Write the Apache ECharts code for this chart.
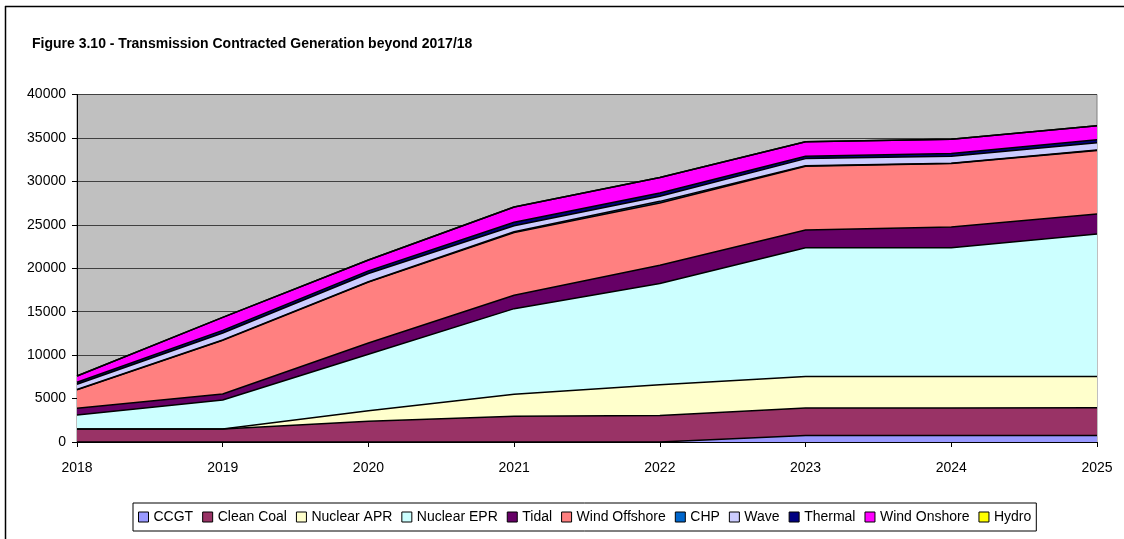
<!DOCTYPE html>
<html>
<head>
<meta charset="utf-8">
<script src="https://cdn.jsdelivr.net/npm/echarts@6/dist/echarts.min.js"></script>
<style>
  html, body { margin: 0; padding: 0; background: #fff; }
  #chart { width: 1124px; height: 539px; }
</style>
</head>
<body>
<div id="chart"></div>
<script>
// years on the x axis
const years = ['2018', '2019', '2020', '2021', '2022', '2023', '2024', '2025'];

// contracted generation per technology (MW)
const ccgt = [0, 0, 0, 0, 0, 750, 750, 750];
const cleanCoal = [1500, 1500, 2400, 2950, 3050, 3150, 3150, 3200];
const nuclearApr = [0, 0, 1200, 2550, 3550, 3650, 3650, 3600];
const nuclearEpr = [1600, 3330, 6500, 9850, 11650, 14800, 14800, 16400];
const tidal = [780, 700, 1300, 1550, 2100, 2050, 2400, 2300];
const windOffshore = [2120, 6170, 7000, 7200, 7150, 7350, 7300, 7300];
const chp = [50, 50, 50, 100, 200, 50, 50, 50];
const wave = [590, 800, 950, 700, 580, 820, 790, 850];
const thermal = [230, 300, 300, 400, 380, 280, 310, 330];
const windOnshore = [730, 1500, 1250, 1750, 1790, 1650, 1650, 1620];
const hydro = [0, 0, 0, 0, 0, 0, 0, 0];

const yTicks = { min: 0, max: 40000, step: 5000 };

// 系列名称和颜色（Excel 默认调色板）
const seriesDefs = [
  ['CCGT', ccgt, '#9999FF'],
  ['Clean Coal', cleanCoal, '#993366'],
  ['Nuclear APR', nuclearApr, '#FFFFCC'],
  ['Nuclear EPR', nuclearEpr, '#CCFFFF'],
  ['Tidal', tidal, '#660066'],
  ['Wind Offshore', windOffshore, '#FF8080'],
  ['CHP', chp, '#0066CC'],
  ['Wave', wave, '#CCCCFF'],
  ['Thermal', thermal, '#000080'],
  ['Wind Onshore', windOnshore, '#FF00FF'],
  ['Hydro', hydro, '#FFFF00'],
];

const font = '"Liberation Sans", Arial, sans-serif';

const chart = echarts.init(document.getElementById('chart'));

chart.setOption({
  animation: false,
  backgroundColor: '#fff',
  textStyle: { fontFamily: font },
  title: {
    text: 'Figure 3.10 - Transmission Contracted Generation beyond 2017/18',
    left: 27,
    top: 32,
    textStyle: { fontSize: 14, fontWeight: 'bold', color: '#000', fontFamily: font },
  },
  grid: {
    left: 77,
    right: 27,
    top: 94.5,
    bottom: 97,
    show: true,
    backgroundColor: '#C0C0C0',
    borderColor: '#808080',
    borderWidth: 1,
  },
  legend: {
    left: 133,
    top: 503,
    width: 980,
    padding: [7, 5, 7, 5],
    itemGap: 9,
    itemWidth: 10,
    itemHeight: 10,
    icon: 'rect',
    borderColor: '#000',
    borderWidth: 1,
    itemStyle: { borderColor: '#000', borderWidth: 1 },
    textStyle: { fontSize: 14, color: '#000', fontFamily: font, padding: [0, 0, 0, 0] },
    data: seriesDefs.map(d => d[0]),
  },
  xAxis: {
    type: 'category',
    data: years,
    boundaryGap: false,
    axisLine: { lineStyle: { color: '#000', width: 1 } },
    axisTick: { show: true, length: 5, lineStyle: { color: '#000' } },
    axisLabel: { fontSize: 14, color: '#000', margin: 19 },
    z: 10,
  },
  yAxis: {
    type: 'value',
    min: yTicks.min,
    max: yTicks.max,
    interval: yTicks.step,
    axisLine: { show: true, lineStyle: { color: '#000', width: 1 } },
    axisTick: { show: true, length: 5, lineStyle: { color: '#000' } },
    axisLabel: { fontSize: 14, color: '#000', margin: 11, formatter: v => String(v) },
    splitLine: { lineStyle: { color: '#404040', width: 1 } },
  },
  graphic: [
    { type: 'line', shape: { x1: 5, y1: 6.5, x2: 1124, y2: 6.5 }, style: { stroke: '#000', lineWidth: 1.5 } },
    { type: 'line', shape: { x1: 5.5, y1: 6, x2: 5.5, y2: 539 }, style: { stroke: '#000', lineWidth: 1.5 } },
  ],
  series: seriesDefs.map(([name, data, color]) => ({
    name,
    type: 'line',
    stack: 'total',
    data,
    color,
    symbol: 'none',
    smooth: false,
    itemStyle: { color },
    lineStyle: { color: '#000', width: 1.5 },
    areaStyle: { color, opacity: 1 },
  })),
});
</script>
</body>
</html>
